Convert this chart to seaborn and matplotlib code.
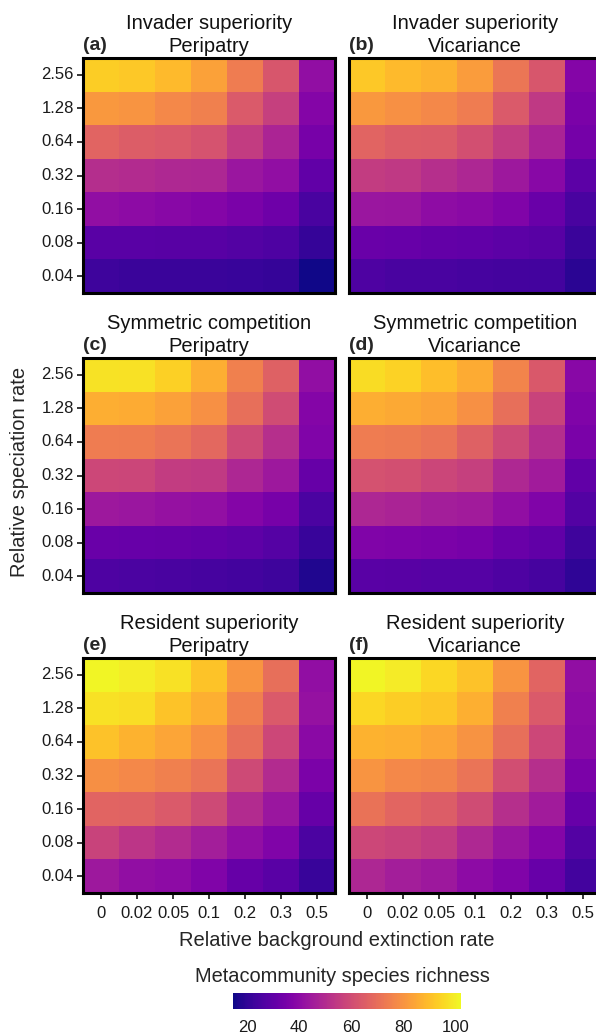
import numpy as np
import pandas as pd
import matplotlib
matplotlib.use("Agg")
import matplotlib.pyplot as plt
import seaborn as sns

sns.set_theme(style="white")
plt.rcParams['font.family'] = ['Liberation Sans', 'DejaVu Sans']

speciation = ["2.56", "1.28", "0.64", "0.32", "0.16", "0.08", "0.04"]
extinction = ["0", "0.02", "0.05", "0.1", "0.2", "0.3", "0.5"]

invader_peripatry = [
    [93, 92, 89, 83, 74, 63, 41],
    [81, 80, 77, 75, 64, 56, 38],
    [67, 65, 64, 62, 55, 48, 35],
    [50.5, 50, 49, 48.5, 43.5, 41, 30],
    [41, 40, 39, 38, 35.5, 33, 25],
    [28.5, 28.5, 28, 28, 27, 26, 21],
    [22.5, 22, 22, 22, 21.5, 21, 15],
]
invader_vicariance = [
    [92, 89, 87, 82, 72, 63, 38],
    [81, 79, 77, 74, 64, 54, 36],
    [67, 65, 64.5, 61, 55, 47.5, 34.5],
    [55, 54, 51, 48.5, 44, 39, 29],
    [43.5, 43, 40.5, 39.5, 37, 32, 25],
    [32, 31.5, 30.5, 30, 29, 28, 22],
    [26, 25, 25, 24.5, 24, 23.5, 19],
]
symmetric_peripatry = [
    [97.5, 97, 93.5, 86, 75, 66, 41],
    [86, 85.5, 83, 79, 70, 60, 38],
    [74, 73.5, 71.5, 68, 59, 51, 37],
    [58.5, 58, 55, 54.5, 48.5, 44, 31],
    [44, 43.5, 42, 41.5, 38, 35, 25.5],
    [32, 31.5, 31, 30.5, 29.5, 27.5, 21.5],
    [26, 25.5, 25, 24.5, 23.5, 22.5, 17],
]
symmetric_vicariance = [
    [96, 94, 90, 85.5, 76, 63.5, 39],
    [86, 85, 83.5, 79, 70, 57, 37],
    [74, 73, 71.5, 66, 59, 50.5, 35.5],
    [61.5, 61, 58, 56, 49, 45, 30],
    [48.5, 47.5, 46, 45, 41, 37, 27],
    [37, 36.5, 36, 35, 32, 30, 23],
    [28.5, 28, 27.5, 27.5, 26, 24.5, 20],
]
resident_peripatry = [
    [101, 99.5, 97, 91, 80, 70, 41],
    [97, 96.5, 91, 86.5, 74.5, 64, 42],
    [90.5, 87, 84, 79, 70, 58.5, 39.5],
    [78.5, 77, 75, 71.5, 59, 50, 36],
    [67, 66.5, 64, 59, 50, 43.5, 31],
    [57, 53, 50, 46, 41, 37, 25.5],
    [44, 41, 40, 37, 31, 28.5, 21.5],
]
resident_vicariance = [
    [101, 99, 95, 90.5, 80, 67, 41],
    [95, 93, 91.5, 86.5, 75, 64, 40],
    [87, 86.5, 84, 79.5, 70, 58.5, 39.5],
    [80, 77, 76, 71.5, 60.5, 51, 36],
    [71, 67.5, 65, 60, 51, 45, 31.5],
    [58.5, 57, 55, 49, 43, 38, 27],
    [48.5, 46, 44, 40, 37, 31.5, 23.5],
]

panels = [
    ("(a)", "Invader superiority\nPeripatry", invader_peripatry),
    ("(b)", "Invader superiority\nVicariance", invader_vicariance),
    ("(c)", "Symmetric competition\nPeripatry", symmetric_peripatry),
    ("(d)", "Symmetric competition\nVicariance", symmetric_vicariance),
    ("(e)", "Resident superiority\nPeripatry", resident_peripatry),
    ("(f)", "Resident superiority\nVicariance", resident_vicariance),
]
cbar_ticks = [20, 40, 60, 80, 100]
vmin, vmax = 14.6, 102

W, H = 596, 1036
fig = plt.figure(figsize=(W / 100, H / 100), dpi=100)

lefts = [83, 349]
tops = [58, 358, 658]
pw, ph = 252, 235

for i, (tag, title, vals) in enumerate(panels):
    r, c = divmod(i, 2)
    ax = fig.add_axes([lefts[c] / W, 1 - (tops[r] + ph) / H, pw / W, ph / H])
    df = pd.DataFrame(vals, index=speciation, columns=extinction)
    sns.heatmap(df, ax=ax, cmap="plasma", vmin=vmin, vmax=vmax, cbar=False,
                linewidths=0, square=False)
    for s in ax.spines.values():
        s.set_visible(True)
        s.set_linewidth(2.2)
        s.set_color("black")
    ax.set_xlabel("")
    ax.set_ylabel("")
    ax.tick_params(axis="both", which="both", length=4, width=1.1, color="black",
                   direction="out", labelsize=12, labelcolor="#1a1a1a", pad=2.5)
    ax.tick_params(axis="x", pad=5)
    ax.set_yticklabels(speciation, rotation=0)
    ax.set_xticklabels(extinction, rotation=0)
    if c == 1:
        ax.tick_params(axis="y", left=False, labelleft=False)
    else:
        ax.tick_params(axis="y", left=True)
    if r < 2:
        ax.tick_params(axis="x", bottom=False, labelbottom=False)
    else:
        ax.tick_params(axis="x", bottom=True)
    ax.set_title(title, fontsize=14.5, pad=4, linespacing=1.3, color="#111111")
    ax.text(0.0, 1.015, tag, transform=ax.transAxes, fontsize=14, fontweight="bold",
            ha="left", va="bottom")

fig.text(20 / W, 1 - 472 / H, "Relative speciation rate", rotation=90,
         fontsize=14.5, ha="center", va="center")
fig.text(337 / W, 1 - 941 / H, "Relative background extinction rate",
         fontsize=14.5, ha="center", va="center")

cax = fig.add_axes([233 / W, 1 - 1009 / H, 228 / W, 16 / H])
sm = matplotlib.cm.ScalarMappable(norm=matplotlib.colors.Normalize(vmin, vmax), cmap="plasma")
cb = fig.colorbar(sm, cax=cax, orientation="horizontal", ticks=cbar_ticks)
cb.outline.set_visible(False)
cax.tick_params(axis="x", direction="in", length=3, width=1.2, color="white",
                top=True, bottom=True, labelsize=12, pad=8, labelcolor="#1a1a1a")
fig.text(342 / W, 1 - 977 / H, "Metacommunity species richness",
         fontsize=14.4, ha="center", va="center")

fig.savefig("out.png", dpi=100)
